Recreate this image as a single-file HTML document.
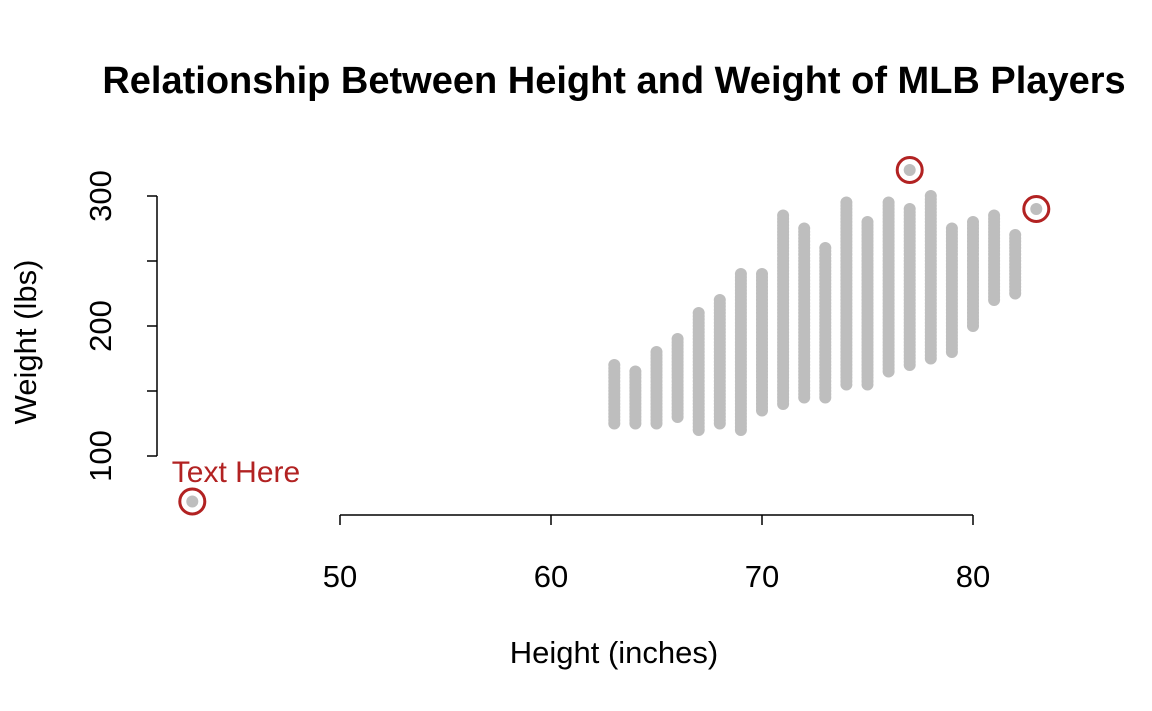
<!DOCTYPE html>
<html><head><meta charset="utf-8"><style>
body{margin:0;background:#fff;}
svg{display:block;font-family:"Liberation Sans",Arial,sans-serif;}
</style></head><body>
<svg id="chart" width="1152" height="711">
<text x="614" y="93" font-size="38" font-weight="bold" text-anchor="middle">Relationship Between Height and Weight of MLB Players</text>
<g id="pts"></g>
<g id="axes"></g>
<text x="614" y="663" font-size="31" text-anchor="middle">Height (inches)</text>
<text transform="translate(36,342) rotate(-90)" font-size="31" text-anchor="middle">Weight (lbs)</text>
<text x="236" y="482" font-size="30" fill="#B22222" text-anchor="middle">Text Here</text>
</svg>
<script>
const heights=[63,64,65,66,67,68,69,70,71,72,73,74,75,76,77,78,79,80,81,82];
const minW=[125,125,125,130,120,125,120,135,140,145,145,155,155,165,170,175,180,200,220,225];
const maxW=[170,165,180,190,210,220,240,240,285,275,260,295,280,295,290,300,275,280,285,270];
const extraX=[43,77,83];
const extraY=[65,320,290];
const xTicks=[50,60,70,80];
const yTicks=[100,150,200,250,300];
const yLabels=[100,200,300];
const X=v=>340+(v-50)*21.1;
const Y=v=>456-(v-100)*1.3;
const NS="http://www.w3.org/2000/svg";
const pts=document.getElementById('pts'),axes=document.getElementById('axes');
function mk(t,a,p){const e=document.createElementNS(NS,t);for(const k in a)e.setAttribute(k,a[k]);p.appendChild(e);return e;}
heights.forEach((h,i)=>{for(let w=minW[i];w<=maxW[i];w+=2.5){const c=mk('circle',{cx:X(h),cy:Y(w),r:6,fill:'#BEBEBE'},pts);

}});
extraX.forEach((h,i)=>{const c=mk('circle',{cx:X(h),cy:Y(extraY[i]),r:6,fill:'#BEBEBE'},pts);


const r=mk('circle',{cx:X(h),cy:Y(extraY[i]),r:12.5,fill:'none',stroke:'#B22222','stroke-width':3},pts);

});
mk('line',{x1:X(50),x2:X(80),y1:515,y2:515,stroke:'#000','stroke-width':1.5},axes);
xTicks.forEach(t=>{mk('line',{x1:X(t),x2:X(t),y1:515,y2:525,stroke:'#000','stroke-width':1.5},axes);
const l=mk('text',{x:X(t),y:587,'font-size':31,'text-anchor':'middle'},axes);l.textContent=t;

});
mk('line',{x1:157,x2:157,y1:Y(100),y2:Y(300),stroke:'#000','stroke-width':1.5},axes);
yTicks.forEach(t=>{mk('line',{x1:147,x2:157,y1:Y(t),y2:Y(t),stroke:'#000','stroke-width':1.5},axes);});
yLabels.forEach(t=>{const l=mk('text',{transform:`translate(111,${Y(t)}) rotate(-90)`,'font-size':31,'text-anchor':'middle'},axes);l.textContent=t;

});
</script>
</body></html>
